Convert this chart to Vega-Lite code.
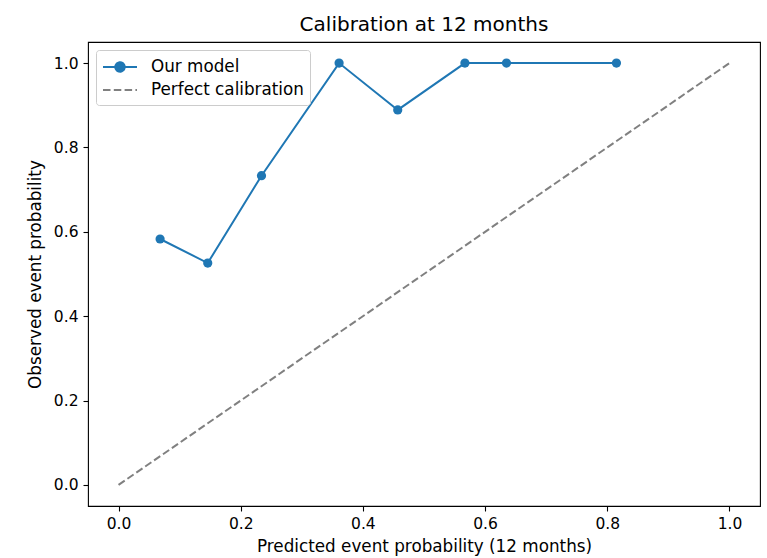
{
  "$schema": "https://vega.github.io/schema/vega-lite/v6.json",
  "width": 672,
  "height": 464,
  "autosize": {"type": "none"},
  "padding": {"left": 88, "top": 42, "right": 7, "bottom": 52},
  "background": "white",
  "title": {"text": "Calibration at 12 months", "fontSize": 20, "font": "DejaVu Sans", "fontWeight": "normal", "color": "#000", "offset": 7},
  "config": {
    "font": "DejaVu Sans",
    "view": {"stroke": "#000", "strokeWidth": 1.1},
    "axis": {"grid": false, "domain": false, "tickColor": "#000", "tickSize": 5, "tickWidth": 1.1, "labelFontSize": 15.5, "labelColor": "#000", "titleFontSize": 16.8, "titleFontWeight": "normal", "titleColor": "#000", "labelPadding": 5}
  },
  "datasets": {
    "model": [
      {"pred": 0.068, "obs": 0.583, "series": "Our model"},
      {"pred": 0.146, "obs": 0.526, "series": "Our model"},
      {"pred": 0.234, "obs": 0.733, "series": "Our model"},
      {"pred": 0.361, "obs": 1.0, "series": "Our model"},
      {"pred": 0.457, "obs": 0.889, "series": "Our model"},
      {"pred": 0.567, "obs": 1.0, "series": "Our model"},
      {"pred": 0.635, "obs": 1.0, "series": "Our model"},
      {"pred": 0.815, "obs": 1.0, "series": "Our model"}
    ],
    "perfect": [
      {"pred": 0, "obs": 0, "series": "Perfect calibration"},
      {"pred": 1, "obs": 1, "series": "Perfect calibration"}
    ]
  },
  "layer": [
    {
      "data": {"name": "perfect"},
      "mark": {"type": "line", "strokeWidth": 2, "strokeDash": [7.5, 3.3], "color": "#808080"},
      "encoding": {
        "x": {"field": "pred", "type": "quantitative", "scale": {"domain": [-0.05, 1.05], "nice": false, "zero": false}, "axis": {"values": [0, 0.2, 0.4, 0.6, 0.8, 1.0], "format": ".1f", "title": "Predicted event probability (12 months)", "titlePadding": 7}},
        "y": {"field": "obs", "type": "quantitative", "scale": {"domain": [-0.05, 1.05], "nice": false, "zero": false}, "axis": {"values": [0, 0.2, 0.4, 0.6, 0.8, 1.0], "format": ".1f", "title": "Observed event probability", "titlePadding": 9}}
      }
    },
    {
      "data": {"name": "model"},
      "mark": {"type": "line", "strokeWidth": 2, "color": "#1f77b4"},
      "encoding": {
        "x": {"field": "pred", "type": "quantitative"},
        "y": {"field": "obs", "type": "quantitative"}
      }
    },
    {
      "data": {"name": "model"},
      "mark": {"type": "point", "filled": true, "opacity": 1, "size": 85, "shape": "circle", "color": "#1f77b4"},
      "encoding": {
        "x": {"field": "pred", "type": "quantitative"},
        "y": {"field": "obs", "type": "quantitative"}
      }
    },
    {
      "data": {"name": "model"},
      "transform": [{"filter": "datum.pred < -1"}],
      "mark": {"type": "point", "filled": false, "opacity": 1, "size": 400, "strokeWidth": 2},
      "encoding": {
        "x": {"field": "pred", "type": "quantitative"},
        "y": {"field": "obs", "type": "quantitative"},
        "color": {"field": "series", "type": "nominal", "scale": {"domain": ["Our model", "Perfect calibration"], "range": ["#1f77b4", "#808080"]},
          "legend": {"title": null, "orient": "top-left", "offset": 8, "fillColor": "white", "strokeColor": "#cccccc", "cornerRadius": 3, "padding": 6, "labelFontSize": 16.8, "labelColor": "#000", "rowPadding": 3, "symbolSize": 400, "symbolStrokeWidth": 2, "labelOffset": 27}},
        "fill": {"field": "series", "type": "nominal", "scale": {"domain": ["Our model", "Perfect calibration"], "range": ["#1f77b4", "transparent"]}},
        "shape": {"field": "series", "type": "nominal", "scale": {"domain": ["Our model", "Perfect calibration"], "range": ["M-1,0L2.4,0M1.17,0C1.17,0.26,0.96,0.47,0.7,0.47C0.44,0.47,0.23,0.26,0.23,0C0.23,-0.26,0.44,-0.47,0.7,-0.47C0.96,-0.47,1.17,-0.26,1.17,0Z", "M-1,0L2.4,0"]}},
        "strokeDash": {"field": "series", "type": "nominal", "scale": {"domain": ["Our model", "Perfect calibration"], "range": [[1, 0], [7.5, 3.3]]}}
      }
    }
  ]
}
